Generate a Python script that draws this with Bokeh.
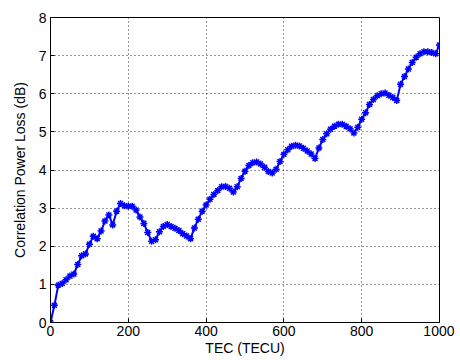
from bokeh.plotting import figure
from bokeh.models import Range1d, FixedTicker
from bokeh.embed import file_html
from bokeh.resources import INLINE

tec = list(range(0, 1001, 10))
loss = [0.0, 0.45, 0.98, 1.02, 1.12, 1.22, 1.27, 1.52, 1.75, 1.8,
        2.05, 2.26, 2.2, 2.4, 2.66, 2.82, 2.56, 2.92, 3.12, 3.06,
        3.05, 3.05, 2.95, 2.77, 2.6, 2.36, 2.13, 2.17, 2.38, 2.52,
        2.57, 2.52, 2.47, 2.41, 2.33, 2.27, 2.2, 2.48, 2.71, 2.92,
        3.08, 3.23, 3.36, 3.46, 3.56, 3.57, 3.52, 3.42, 3.56, 3.78,
        3.97, 4.12, 4.19, 4.21, 4.16, 4.07, 3.96, 3.92, 4.02, 4.22,
        4.41, 4.53, 4.62, 4.65, 4.63, 4.57, 4.5, 4.42, 4.3, 4.58,
        4.8, 4.95, 5.07, 5.15, 5.2, 5.2, 5.15, 5.08, 4.97, 5.12,
        5.33, 5.5, 5.72, 5.85, 5.95, 6.0, 6.02, 5.96, 5.9, 5.82,
        6.25, 6.45, 6.65, 6.82, 6.96, 7.05, 7.1, 7.1, 7.08, 7.05,
        7.28]

xticks = [0, 200, 400, 600, 800, 1000]
yticks = [0, 1, 2, 3, 4, 5, 6, 7, 8]

p = figure(width=454, height=358, output_backend="svg", toolbar_location=None,
           x_range=Range1d(0, 1000), y_range=Range1d(0, 8),
           min_border_left=50, min_border_right=15, min_border_top=17, min_border_bottom=36)

p.line(tec, loss, line_color="#0000ff", line_width=2)
p.scatter(tec, loss, marker="asterisk", size=7, line_color="#0000ff", line_width=1.5)

font = "Liberation Sans"
for ax in (p.xaxis[0], p.yaxis[0]):
    ax.major_label_text_font = font
    ax.major_label_text_font_size = "14px"
    ax.major_label_text_color = "black"
    ax.axis_label_text_font = font
    ax.axis_label_text_font_size = "14px"
    ax.axis_label_text_font_style = "normal"
    ax.axis_label_text_color = "black"
    ax.major_tick_out = 0
    ax.major_tick_in = 4
    ax.minor_tick_out = 0
    ax.minor_tick_in = 0
    ax.axis_line_color = "black"
    ax.major_tick_line_color = "black"

p.xaxis.ticker = FixedTicker(ticks=xticks)
p.yaxis.ticker = FixedTicker(ticks=yticks)
p.xaxis.axis_label = "TEC (TECU)"
p.yaxis.axis_label = "Correlation Power Loss (dB)"
p.xaxis.major_label_standoff = 3
p.xaxis.axis_label_standoff = 1
p.yaxis.major_label_standoff = 4
p.yaxis.axis_label_standoff = 8

p.grid.grid_line_color = "black"
p.grid.grid_line_dash = "1 3"
p.grid.grid_line_alpha = 0.8
p.outline_line_color = "black"
p.outline_line_alpha = 1.0
p.background_fill_color = "white"
p.border_fill_color = "white"

open("out.html", "w").write(file_html(p, INLINE))
